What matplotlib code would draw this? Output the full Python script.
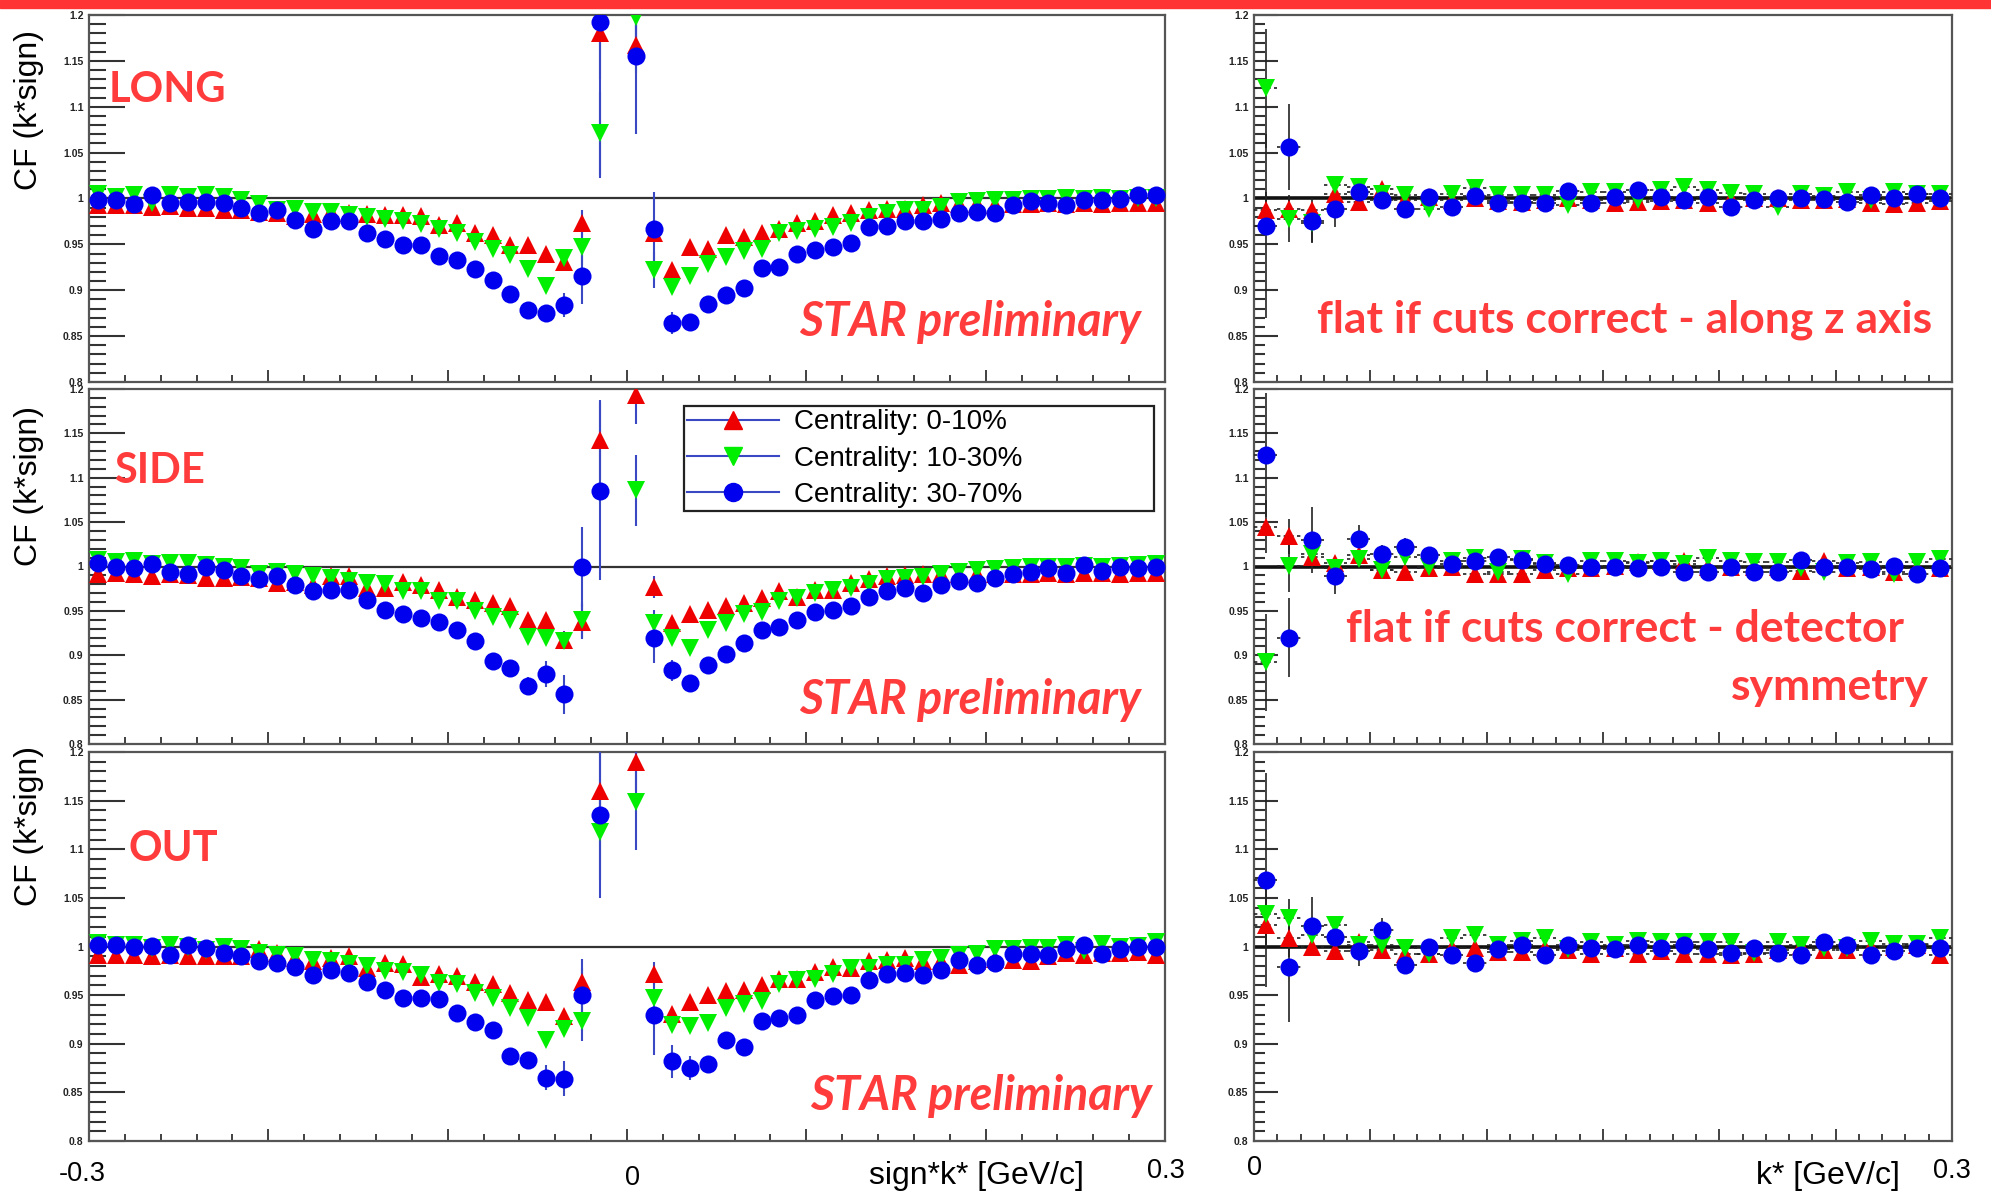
import numpy as np
import matplotlib
matplotlib.use("Agg")
import matplotlib.pyplot as plt
from matplotlib.lines import Line2D
from matplotlib.patches import Rectangle
from matplotlib.ticker import MultipleLocator, FuncFormatter

nan = np.nan

# bin centres: signed k* (left column) and k* (right column)
k_signed = np.linspace(-0.295, 0.295, 60)
k_star = np.linspace(0.005, 0.295, 30)

# ---- LONG ----
long_c0_10 = [0.993, 0.993, 0.993, 0.991, 0.992, 0.990, 0.990, 0.988, 0.987, 0.985,
              0.984, 0.981, 0.983, 0.985, 0.984, 0.983, 0.982, 0.982, 0.981, 0.971,
              0.973, 0.962, 0.960, 0.949, 0.949, 0.940, 0.931, 0.973, 1.180, nan,
              1.167, 0.962, 0.922, 0.947, 0.945, 0.960, 0.958, 0.962, 0.967, 0.973,
              0.975, 0.982, 0.984, 0.987, 0.989, 0.989, 0.993, 0.995, 0.994, 0.994,
              0.993, 0.994, 0.994, 0.995, 0.994, 0.995, 0.994, 0.995, 0.995, 0.995]
long_c10_30 = [1.005, 1.002, 1.004, 0.995, 1.004, 1.002, 1.004, 1.002, 0.998, 0.994,
               0.987, 0.989, 0.985, 0.985, 0.982, 0.980, 0.978, 0.975, 0.972, 0.967,
               0.962, 0.953, 0.945, 0.938, 0.923, 0.905, 0.935, 0.947, 1.071, nan,
               1.198, 0.922, 0.904, 0.916, 0.929, 0.936, 0.943, 0.945, 0.962, 0.965,
               0.967, 0.969, 0.973, 0.980, 0.984, 0.987, 0.987, 0.991, 0.996, 0.997,
               0.998, 0.998, 0.999, 0.999, 1.000, 0.999, 1.000, 0.999, 1.000, 1.000]
long_c30_70 = [0.998, 0.998, 0.994, 1.004, 0.995, 0.996, 0.996, 0.995, 0.990, 0.984,
               0.988, 0.977, 0.967, 0.975, 0.975, 0.962, 0.956, 0.949, 0.949, 0.937,
               0.933, 0.923, 0.911, 0.896, 0.879, 0.875, 0.884, 0.915, 1.192, nan,
               1.155, 0.967, 0.864, 0.865, 0.885, 0.895, 0.902, 0.924, 0.925, 0.939,
               0.944, 0.947, 0.951, 0.969, 0.970, 0.976, 0.976, 0.978, 0.984, 0.985,
               0.984, 0.993, 0.997, 0.995, 0.993, 0.998, 0.998, 0.999, 1.004, 1.004]

# ---- SIDE ----
side_c0_10 = [0.992, 0.993, 0.992, 0.989, 0.991, 0.990, 0.987, 0.987, 0.988, 0.987,
              0.981, 0.983, 0.979, 0.989, 0.989, 0.976, 0.976, 0.983, 0.979, 0.974,
              0.966, 0.962, 0.959, 0.955, 0.940, 0.940, 0.917, 0.938, 1.143, nan,
              1.193, 0.977, 0.936, 0.946, 0.951, 0.955, 0.959, 0.964, 0.972, 0.966,
              0.974, 0.973, 0.981, 0.986, 0.989, 0.990, 0.991, 0.992, 0.991, 0.992,
              0.992, 0.991, 0.992, 0.993, 0.992, 0.993, 0.993, 0.992, 0.993, 0.993]
side_c10_30 = [1.007, 1.005, 1.006, 1.003, 1.004, 1.004, 1.002, 1.000, 0.998, 0.991,
               0.994, 0.991, 0.989, 0.987, 0.984, 0.981, 0.980, 0.972, 0.972, 0.961,
               0.961, 0.950, 0.943, 0.940, 0.921, 0.920, 0.916, 0.940, nan, nan,
               1.086, 0.936, 0.919, 0.908, 0.928, 0.936, 0.947, 0.949, 0.961, 0.964,
               0.970, 0.974, 0.976, 0.980, 0.986, 0.987, 0.988, 0.991, 0.994, 0.996,
               0.997, 0.998, 0.999, 1.000, 1.000, 1.001, 0.999, 1.001, 1.002, 1.003]
side_c30_70 = [1.004, 0.999, 0.998, 1.003, 0.994, 0.991, 1.000, 0.996, 0.989, 0.986,
               0.989, 0.979, 0.972, 0.974, 0.973, 0.962, 0.951, 0.946, 0.942, 0.937,
               0.929, 0.916, 0.894, 0.886, 0.865, 0.879, 0.856, 0.999, 1.085, nan,
               nan, 0.919, 0.883, 0.869, 0.889, 0.901, 0.914, 0.928, 0.932, 0.940,
               0.949, 0.951, 0.955, 0.966, 0.972, 0.976, 0.970, 0.979, 0.984, 0.981,
               0.987, 0.991, 0.994, 0.998, 0.993, 1.002, 0.995, 1.000, 0.998, 1.000]

# ---- OUT ----
out_c0_10 = [0.991, 0.991, 0.991, 0.990, 0.991, 0.990, 0.990, 0.990, 0.990, 0.997,
             0.993, 0.988, 0.985, 0.988, 0.990, 0.978, 0.983, 0.982, 0.969, 0.972,
             0.970, 0.964, 0.961, 0.952, 0.945, 0.943, 0.929, 0.963, 1.160, nan,
             1.190, 0.972, 0.931, 0.943, 0.950, 0.954, 0.955, 0.960, 0.967, 0.967,
             0.974, 0.979, 0.978, 0.985, 0.986, 0.988, 0.985, 0.985, 0.981, 0.985,
             0.987, 0.986, 0.985, 0.990, 0.993, 0.991, 0.993, 0.993, 0.994, 0.991]
out_c10_30 = [1.004, 1.002, 1.002, 0.998, 1.002, 1.000, 0.996, 1.000, 0.997, 0.993,
              0.991, 0.990, 0.986, 0.985, 0.982, 0.980, 0.975, 0.974, 0.971, 0.962,
              0.961, 0.952, 0.947, 0.937, 0.926, 0.904, 0.915, 0.923, 1.118, nan,
              1.149, 0.947, 0.919, 0.918, 0.921, 0.937, 0.941, 0.944, 0.961, 0.966,
              0.967, 0.972, 0.978, 0.978, 0.981, 0.981, 0.986, 0.988, 0.991, 0.992,
              0.997, 0.997, 0.998, 0.998, 1.002, 0.995, 1.003, 1.000, 1.001, 1.005]
out_c30_70 = [1.002, 1.002, 1.000, 1.001, 0.991, 1.002, 0.998, 0.993, 0.990, 0.985,
              0.983, 0.979, 0.971, 0.976, 0.973, 0.963, 0.955, 0.947, 0.947, 0.946,
              0.932, 0.922, 0.914, 0.887, 0.883, 0.865, 0.864, 0.950, 1.135, nan,
              nan, 0.930, 0.882, 0.875, 0.879, 0.904, 0.897, 0.923, 0.926, 0.930,
              0.945, 0.949, 0.950, 0.966, 0.972, 0.973, 0.971, 0.976, 0.986, 0.981,
              0.983, 0.992, 0.992, 0.991, 0.997, 1.002, 0.992, 0.997, 1.000, 1.000]

# ---- flatness checks vs k* ----
zaxis_c0_10 = [0.987, 0.989, 0.987, 1.005, 0.996, 1.010, 0.998, 1.002, 0.998, 1.000,
               0.997, 0.996, 0.998, 1.001, 0.998, 0.995, 0.996, 0.997, 0.998, 0.995,
               0.999, 1.000, 1.000, 0.998, 0.998, 0.999, 0.995, 0.994, 0.995, 0.997]
zaxis_c10_30 = [1.120, 0.978, 0.973, 1.015, 1.013, 1.005, 1.004, 0.989, 1.005, 1.011,
                1.004, 1.004, 1.004, 0.993, 1.007, 1.007, 0.998, 1.009, 1.012, 1.009,
                1.006, 1.005, 0.991, 1.005, 1.003, 1.007, 0.998, 1.007, 1.005, 1.005]
zaxis_c30_70 = [0.970, 1.056, 0.976, 0.989, 1.007, 0.998, 0.989, 1.002, 0.991, 1.003,
                0.995, 0.995, 0.995, 1.008, 0.995, 1.002, 1.009, 1.002, 0.998, 1.002,
                0.991, 0.998, 1.000, 1.000, 0.999, 0.996, 1.004, 1.000, 1.005, 1.000]

sym_c0_10 = [1.045, 1.034, 1.011, 1.004, 1.013, 0.996, 0.994, 0.998, 0.999, 0.992,
             0.991, 0.991, 0.996, 0.998, 0.998, 1.001, 1.005, 1.006, 1.006, 0.999,
             1.000, 0.999, 1.000, 0.995, 1.006, 0.998, 0.999, 0.994, 0.998, 0.998]
sym_c10_30 = [0.892, 1.001, 1.014, 0.998, 1.009, 0.996, 1.011, 1.000, 1.006, 1.010,
              0.994, 1.008, 1.004, 0.991, 1.006, 1.006, 1.004, 1.006, 1.003, 1.010,
              1.006, 1.005, 1.005, 0.998, 0.994, 1.004, 1.005, 0.992, 1.005, 1.009]
sym_c30_70 = [1.126, 0.920, 1.030, 0.989, 1.031, 1.014, 1.022, 1.013, 1.003, 1.006,
              1.011, 1.007, 1.003, 1.002, 0.999, 1.000, 0.998, 1.000, 0.994, 0.994,
              0.999, 0.994, 0.994, 1.007, 0.999, 1.000, 0.997, 1.001, 0.992, 0.998]

out3_c0_10 = [1.022, 1.009, 1.000, 0.995, 1.005, 0.996, 0.992, 0.992, 0.998, 0.998,
              0.994, 0.994, 0.998, 0.996, 0.992, 0.998, 0.992, 0.995, 0.992, 0.992,
              0.991, 0.992, 0.996, 1.001, 0.996, 0.996, 1.000, 1.000, 1.002, 0.991]
out3_c10_30 = [1.033, 1.029, 1.012, 1.022, 1.002, 1.002, 0.998, 0.992, 1.009, 1.012,
               1.002, 1.006, 1.009, 0.997, 1.005, 1.002, 1.006, 1.005, 1.005, 1.005,
               1.005, 0.993, 1.005, 1.002, 0.998, 0.998, 1.006, 1.003, 1.003, 1.009]
out3_c30_70 = [1.068, 0.979, 1.021, 1.010, 0.995, 1.017, 0.981, 1.000, 0.991, 0.983,
               0.997, 1.002, 0.991, 1.002, 0.998, 0.997, 1.002, 0.998, 1.002, 0.997,
               0.993, 0.998, 0.993, 0.991, 1.005, 1.002, 0.991, 0.995, 0.998, 0.998]

# statistical errors: a common small value, larger ones listed by bin index
err_small_left = 0.003
err_small_right = 0.004
long_err = [{27: 0.015, 28: 0.05, 30: 0.03},
            {27: 0.02, 28: 0.045, 30: 0.03, 31: 0.02},
            {24: 0.008, 25: 0.008, 26: 0.013, 27: 0.03, 28: 0.17, 30: 0.085,
             31: 0.04, 32: 0.012, 33: 0.008}]
side_err = [{26: 0.01, 27: 0.02, 28: 0.045, 30: 0.032, 31: 0.012},
            {27: 0.02, 30: 0.04, 31: 0.015},
            {24: 0.01, 25: 0.015, 26: 0.022, 27: 0.045, 28: 0.1, 31: 0.028,
             32: 0.012, 33: 0.008}]
out_err = [{27: 0.015, 28: 0.045, 30: 0.03, 31: 0.012},
           {27: 0.02, 28: 0.05, 30: 0.05},
           {24: 0.008, 25: 0.013, 26: 0.018, 27: 0.037, 28: 0.085, 31: 0.042,
            32: 0.017, 33: 0.012}]
zaxis_err = [{0: 0.02, 1: 0.015},
             {0: 0.065, 1: 0.025, 2: 0.02},
             {0: 0.1, 1: 0.047, 2: 0.025, 3: 0.02, 4: 0.015, 5: 0.008}]
sym_err = [{0: 0.03, 1: 0.02},
           {0: 0.055, 1: 0.03},
           {0: 0.07, 1: 0.045, 2: 0.037, 3: 0.02, 4: 0.016, 5: 0.01, 6: 0.01}]
out3_err = [{0: 0.02, 1: 0.02},
            {0: 0.03, 1: 0.02},
            {0: 0.11, 1: 0.057, 2: 0.03, 3: 0.02, 4: 0.015, 5: 0.012}]

labels = ["Centrality: 0-10%", "Centrality: 10-30%", "Centrality: 30-70%"]
markers = ["^", "v", "o"]
colors = ["#ee0000", "#00ee00", "#0000ee"]
err_blue = "#3b48c4"
red_txt = "#ff3b3b"

W, H = 1991, 1192
fig = plt.figure(figsize=(W / 100, H / 100), dpi=100)
fig.patch.set_facecolor("white")

# red banner along the top edge
fig.patches.append(Rectangle((0, 1 - 8 / H), 1, 8 / H, transform=fig.transFigure,
                             color="#ff3333", zorder=0))

rows_top = [15, 389, 752]
rows_bot = [382, 744, 1141]
left_x = (89, 1165)
right_x = (1254, 1952)


def make_axes(x0, x1, top, bot):
    return fig.add_axes([x0 / W, 1 - bot / H, (x1 - x0) / W, (bot - top) / H])


def errs(n, small, big):
    e = np.full(n, small)
    for i, v in big.items():
        e[i] = v
    return e


def style(ax, xlim, xmaj, xmin, ylong, yshort):
    ax.set_xlim(*xlim)
    ax.set_ylim(0.8, 1.2)
    ax.yaxis.set_major_locator(MultipleLocator(0.05))
    ax.yaxis.set_minor_locator(MultipleLocator(0.01))
    ax.xaxis.set_major_locator(MultipleLocator(xmaj))
    ax.xaxis.set_minor_locator(MultipleLocator(xmin))
    ax.yaxis.set_major_formatter(FuncFormatter(lambda v, p: f"{v:g}"))
    ax.tick_params(axis="y", which="major", direction="in", length=ylong, width=1.5,
                   color="#333333", labelsize=7.5, pad=4, labelcolor="#222222")
    ax.tick_params(axis="y", which="minor", direction="in", length=yshort, width=1.5,
                   color="#333333")
    ax.tick_params(axis="x", which="major", direction="in", length=9, width=1.3,
                   color="#333333", labelbottom=False)
    ax.tick_params(axis="x", which="minor", direction="in", length=5, width=1.3,
                   color="#333333")
    for lbl in ax.get_yticklabels():
        lbl.set_fontweight("bold")
        lbl.set_family("Liberation Sans")
    for s in ax.spines.values():
        s.set_color("#555555")
        s.set_linewidth(1.6)


def draw(ax, x, series, err_list, small, right):
    for y, big, m, c in zip(series, err_list, markers, colors):
        e = errs(len(x), small, big)
        if right:
            eb = ax.errorbar(x, y, yerr=e, xerr=0.005, fmt=m, color=c, ms=13, mew=0,
                             ecolor="#222222", elinewidth=1.2, capsize=0, zorder=3)
            eb[2][0].set_linestyle((0, (2, 2)))
        else:
            ax.errorbar(x, y, yerr=e, fmt=m, color=c, ms=13, mew=0,
                        ecolor=err_blue, elinewidth=1.5, capsize=0, zorder=3)


left_sets = [
    ([long_c0_10, long_c10_30, long_c30_70], long_err),
    ([side_c0_10, side_c10_30, side_c30_70], side_err),
    ([out_c0_10, out_c10_30, out_c30_70], out_err),
]
right_sets = [
    ([zaxis_c0_10, zaxis_c10_30, zaxis_c30_70], zaxis_err),
    ([sym_c0_10, sym_c10_30, sym_c30_70], sym_err),
    ([out3_c0_10, out3_c10_30, out3_c30_70], out3_err),
]

left_axes, right_axes = [], []
for r in range(3):
    axl = make_axes(*left_x, rows_top[r], rows_bot[r])
    style(axl, (-0.3, 0.3), 0.1, 0.02, 26, 12)
    axl.axhline(1.0, color="#333333", lw=1.6, zorder=2)
    draw(axl, k_signed, left_sets[r][0], left_sets[r][1], err_small_left, False)
    left_axes.append(axl)

    axr = make_axes(*right_x, rows_top[r], rows_bot[r])
    style(axr, (0.0, 0.3), 0.05, 0.01, 17, 8)
    axr.axhline(1.0, color="#111111", lw=2.6, zorder=2)
    draw(axr, k_star, right_sets[r][0], right_sets[r][1], err_small_right, True)
    right_axes.append(axr)

# legend in the SIDE panel, box stretched to a fixed width
handles = [Line2D([], [], color=err_blue, lw=1.5, marker=m, mfc=c, mec=c, ms=13)
           for m, c in zip(markers, colors)]
leg = left_axes[1].legend(handles, labels, loc="upper left", mode="expand",
                          bbox_to_anchor=(0.553, 0.646, 0.437, 0.306),
                          frameon=True, fancybox=False,
                          edgecolor="#222222", framealpha=1,
                          prop={"family": "Liberation Sans", "size": 20},
                          handlelength=3.3, handletextpad=0.55, labelspacing=0.37,
                          borderpad=0.12, borderaxespad=0)
leg.get_frame().set_linewidth(1.6)


def ftext(x, y, s, **kw):
    return fig.text(x / W, 1 - y / H, s, **kw)


# y axis titles
for yc in [110, 486, 826]:
    ftext(29, yc, "CF (k*sign)", rotation=90, ha="center", va="center",
          fontsize=23, family="Liberation Sans")

# projection names
big = dict(color=red_txt, family="Lato", weight="bold", fontsize=30, va="baseline")
ftext(109, 102, "LONG", ha="left", **big)
ftext(114, 483, "SIDE", ha="left", **big)
ftext(129, 861, "OUT", ha="left", **big)

star = dict(color=red_txt, family="Lato", weight="bold", style="italic",
            fontsize=33.5, va="baseline", ha="right")
ftext(1141, 336, "STAR preliminary", **star)
ftext(1141, 714, "STAR preliminary", **star)
ftext(1152, 1110, "STAR preliminary", **star)

note = dict(color=red_txt, family="Lato", weight="bold", fontsize=32, va="baseline")
ftext(1932, 332, "flat if cuts correct - along z axis", ha="right", **note)
ftext(1346, 642, "flat if cuts correct - detector", ha="left", **note)
ftext(1929, 700, "symmetry", ha="right", **note)

# bottom axis annotations
ax_txt = dict(family="Liberation Sans", ha="center", va="center", color="black")
ftext(82, 1174, "-0.3", fontsize=19.5, **ax_txt)
ftext(632, 1178, "0", fontsize=19.5, **ax_txt)
ftext(976, 1176, "sign*k* [GeV/c]", fontsize=23, **ax_txt)
ftext(1166, 1171, "0.3", fontsize=19.5, **ax_txt)
ftext(1254, 1168, "0", fontsize=19.5, **ax_txt)
ftext(1828, 1176, "k* [GeV/c]", fontsize=23, **ax_txt)
ftext(1952, 1171, "0.3", fontsize=19.5, **ax_txt)

fig.savefig("out.png", dpi=100, facecolor="white")
